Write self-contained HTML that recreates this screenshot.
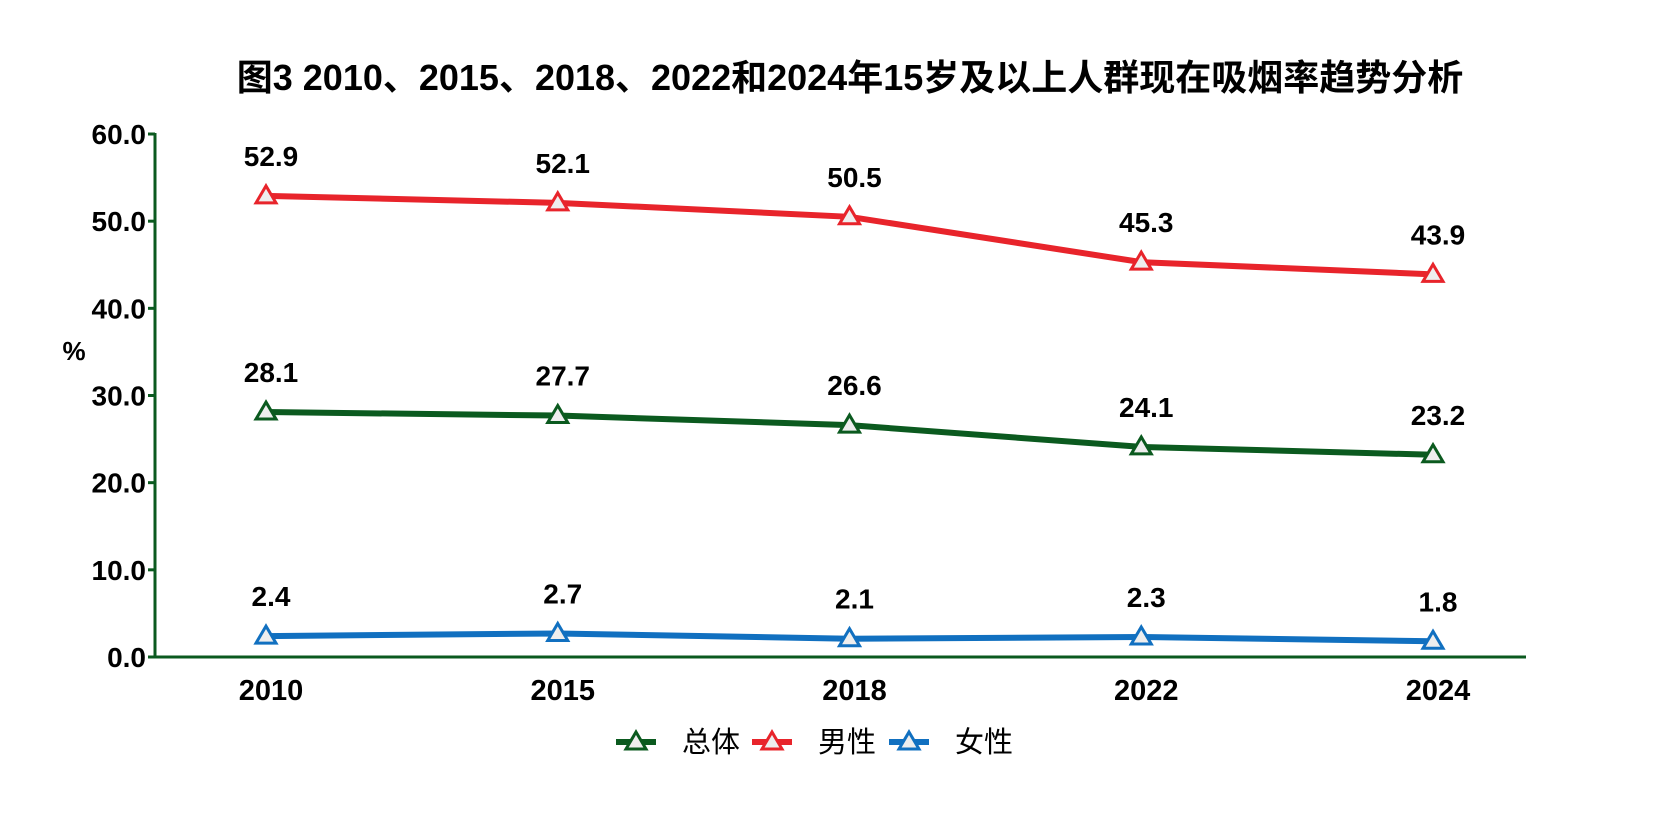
<!DOCTYPE html>
<html><head><meta charset="utf-8"><style>
body{margin:0;background:#fff;}
svg text{font-family:"Liberation Sans","Noto Sans CJK SC",sans-serif;font-weight:bold;fill:#000;}
</style></head><body>
<svg id="c" width="1658" height="832" xmlns="http://www.w3.org/2000/svg">
<text x="850" y="90" font-size="36" text-anchor="middle">图3 2010、2015、2018、2022和2024年15岁及以上人群现在吸烟率趋势分析</text>
<text x="74" y="360" font-size="26" text-anchor="middle">%</text>
</svg>
<script>
const years=["2010","2015","2018","2022","2024"];
const total=[28.1,27.7,26.6,24.1,23.2];
const male=[52.9,52.1,50.5,45.3,43.9];
const female=[2.4,2.7,2.1,2.3,1.8];
const yTicks=[0,10,20,30,40,50,60];
const svg=document.getElementById('c');
const NS='http://www.w3.org/2000/svg';
function x(i){return 266+i*(1433-266)/(years.length-1);}
function y(v){return 657-v*(523/60);}
function mk(t,a){const e=document.createElementNS(NS,t);for(const k in a)e.setAttribute(k,a[k]);svg.appendChild(e);return e;}
let ax=mk('line',{x1:155,y1:657,x2:1526,y2:657,stroke:'#0b5a1f','stroke-width':3});


let ay=mk('line',{x1:155,y1:y(60)-1,x2:155,y2:658,stroke:'#0b5a1f','stroke-width':3});


yTicks.forEach(v=>{
 let tk=mk('line',{x1:148,y1:y(v),x2:155,y2:y(v),stroke:'#0b5a1f','stroke-width':3});
 
 
 let t=mk('text',{x:146,y:y(v)+10,'font-size':28,'text-anchor':'end'});t.textContent=v.toFixed(1);
 
 
});
years.forEach((yr,i)=>{
 let t=mk('text',{x:x(i)+5,y:700,'font-size':29,'text-anchor':'middle'});t.textContent=yr;
 
 
});
function tri(cx,cy,col){return mk('path',{d:`M${cx},${cy-10} L${cx+10},${cy+7} L${cx-10},${cy+7} Z`,fill:'#eee',stroke:col,'stroke-width':3});}
const series=[[total,'#0b5a1f','total'],[male,'#e8242b','male'],[female,'#1170c0','female']];
series.forEach(([d,col,nm])=>{
 let p=mk('polyline',{points:d.map((v,i)=>x(i)+','+y(v)).join(' '),fill:'none',stroke:col,'stroke-width':6});
 
 
 d.forEach((v,i)=>{
  let m=tri(x(i),y(v),col);
  
  
  let t=mk('text',{x:x(i)+5,y:y(v)-30,'font-size':28,'text-anchor':'middle'});t.textContent=v.toFixed(1);
  
  
 });
});
const legend=[['总体','#0b5a1f',616],['男性','#e8242b',752],['女性','#1170c0',889]];
legend.forEach(([n,col,lx])=>{
 let l=mk('line',{x1:lx,y1:742,x2:lx+40,y2:742,stroke:col,'stroke-width':6});
 
 
 let m=tri(lx+20,742,col);
 
 
 let t=mk('text',{x:lx+66,y:752,'font-size':29});t.textContent=n;
 t.style.fontWeight='normal';
 
 
});
</script>
</body></html>
